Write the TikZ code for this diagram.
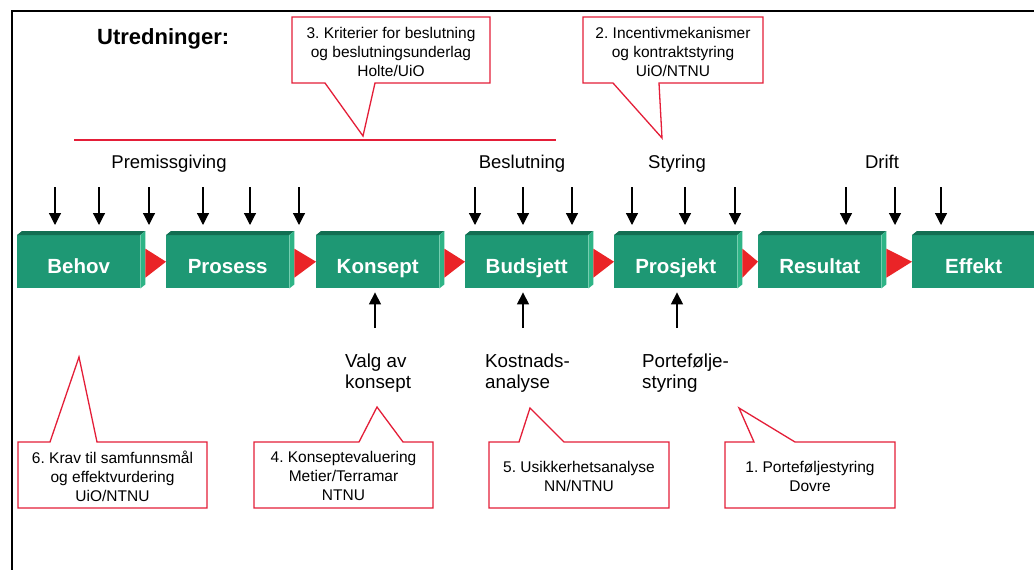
\documentclass[tikz,border=0pt]{standalone}
\usepackage{fontspec}
\setmainfont{Liberation Sans}
\usetikzlibrary{arrows.meta,calc}
\frenchspacing

\definecolor{stagefront}{RGB}{30,152,116}
\definecolor{stagetop}{RGB}{18,110,82}
\definecolor{stageside}{RGB}{46,180,134}
\definecolor{flowred}{RGB}{234,36,39}
\definecolor{noteline}{RGB}{228,30,56}

\tikzset{
  stage/.style={fill=stagefront, minimum width=123pt, minimum height=53pt,
    inner sep=0pt, text=white, font=\fontsize{20.5}{24}\selectfont\bfseries,
    text height=24pt, text depth=0pt, anchor=north west},
  heading/.style={font=\fontsize{22}{26}\selectfont\bfseries, inner sep=0pt},
  phase/.style={font=\fontsize{18.5}{22}\selectfont, inner sep=0pt, anchor=base},
  input/.style={font=\fontsize{18.8}{21}\selectfont, align=left, inner sep=0pt,
    anchor=north west},
  notetext/.style={font=\fontsize{15.5}{18.8}\selectfont, align=center,
    inner sep=0pt, anchor=north},
  note/.style={draw=noteline, fill=white, line width=1.3pt, line join=miter},
  feed/.style={line width=1.2pt, -{Triangle[width=12pt,length=12pt]}},
  frame/.style={line width=2pt},
}

% a 3D process block: front face as a node, top and side faces beside it
\newcommand\stagebox[3]{%
  \node[stage] (#1) at (#2,235) {#3};
  \fill[stagetop] (#1.north west) -- (#1.north east)
    -- ($(#1.north east)+(5,-4)$) -- ($(#1.north west)+(5,-4)$) -- cycle;
  \fill[stageside] (#1.north east) -- ($(#1.north east)+(5,-4)$)
    -- ($(#1.south east)+(5,-4)$) -- (#1.south east) -- cycle;
}
% red flow triangle from one block to the next
\newcommand\flowstep[2]{%
  \fill[flowred] ($(#1.east)+(5,-13)$) -- (#2.west) -- ($(#1.east)+(5,16)$) -- cycle;
}

\begin{document}
\begin{tikzpicture}[x=1pt,y=-1pt]
\useasboundingbox (0,0) rectangle (1034,570);
\fill[white] (0,0) rectangle (1034,570);

% frame
\draw[frame] (1036,11) -- (12,11) -- (12,572);

% title
\node[heading, anchor=base west] (title) at (97,45) {Utredninger:};

% top callouts
\draw[note] (292,17) -- (490,17) -- (490,83) -- (375,83) -- (363,136)
  -- (325,83) -- (292,83) -- cycle;
\node[notetext] (n3) at (391,27) {3. Kriterier for beslutning\\og beslutningsunderlag\\Holte/UiO};

\draw[note] (583,17) -- (763,17) -- (763,83) -- (659,83) -- (662,138)
  -- (613,83) -- (583,83) -- cycle;
\node[notetext] (n2) at (673,27) {2. Incentivmekanismer\\og kontraktstyring\\UiO/NTNU};

% red rule
\draw[noteline, line width=1.6pt] (74,140) -- (556,140);

% phase labels
\node[phase] (ph1) at (169,168) {Premissgiving};
\node[phase] (ph2) at (522,168) {Beslutning};
\node[phase] (ph3) at (677,168) {Styring};
\node[phase] (ph4) at (882,168) {Drift};

% process blocks
\stagebox{behov}{17}{Behov}
\stagebox{prosess}{166}{Prosess}
\stagebox{konsept}{316}{Konsept}
\stagebox{budsjett}{465}{Budsjett}
\stagebox{prosjekt}{614}{Prosjekt}
\stagebox{resultat}{758}{Resultat}
\stagebox{effekt}{912}{Effekt}

\flowstep{behov}{prosess}
\flowstep{prosess}{konsept}
\flowstep{konsept}{budsjett}
\flowstep{budsjett}{prosjekt}
\flowstep{prosjekt}{resultat}
\flowstep{resultat}{effekt}

% incoming arrows from above
\foreach \x [count=\i] in {55,99,149,203,250,299,475,523,572,632,685,735,846,895,941}{
  \coordinate (p\i) at (\x,187);
  \draw[feed, shorten >=10pt] (p\i) -- (p\i |- behov.north);
}

% incoming arrows from below
\coordinate (u1) at (375,328);
\coordinate (u2) at (523,328);
\coordinate (u3) at (677,328);
\draw[feed, shorten >=4pt] (u1) -- (u1 |- konsept.south);
\draw[feed, shorten >=4pt] (u2) -- (u2 |- budsjett.south);
\draw[feed, shorten >=4pt] (u3) -- (u3 |- prosjekt.south);

\node[input] (in1) at (345,354) {Valg av\\konsept};
\node[input] (in2) at (485,354) {Kostnads-\\analyse};
\node[input] (in3) at (642,354) {Portefølje-\\styring};

% bottom callouts
\draw[note] (18,442) -- (50,442) -- (79,357) -- (97,442) -- (207,442)
  -- (207,508) -- (18,508) -- cycle;
\node[notetext] (n6) at (112.5,451) {6. Krav til samfunnsmål\\og effektvurdering\\UiO/NTNU};

\draw[note] (254,442) -- (359,442) -- (377,407) -- (403,442) -- (433,442)
  -- (433,508) -- (254,508) -- cycle;
\node[notetext] (n4) at (343.5,451) {4. Konseptevaluering\\Metier/Terramar\\NTNU};

\draw[note] (489,442) -- (519,442) -- (530,408) -- (564,442) -- (669,442)
  -- (669,508) -- (489,508) -- cycle;
\node[notetext] (n5) at (579,461) {5. Usikkerhetsanalyse\\NN/NTNU};

\draw[note] (725,442) -- (754,442) -- (739,408) -- (795,442) -- (895,442)
  -- (895,508) -- (725,508) -- cycle;
\node[notetext] (n1) at (810,461) {1. Porteføljestyring\\Dovre};
\end{tikzpicture}
\end{document}
